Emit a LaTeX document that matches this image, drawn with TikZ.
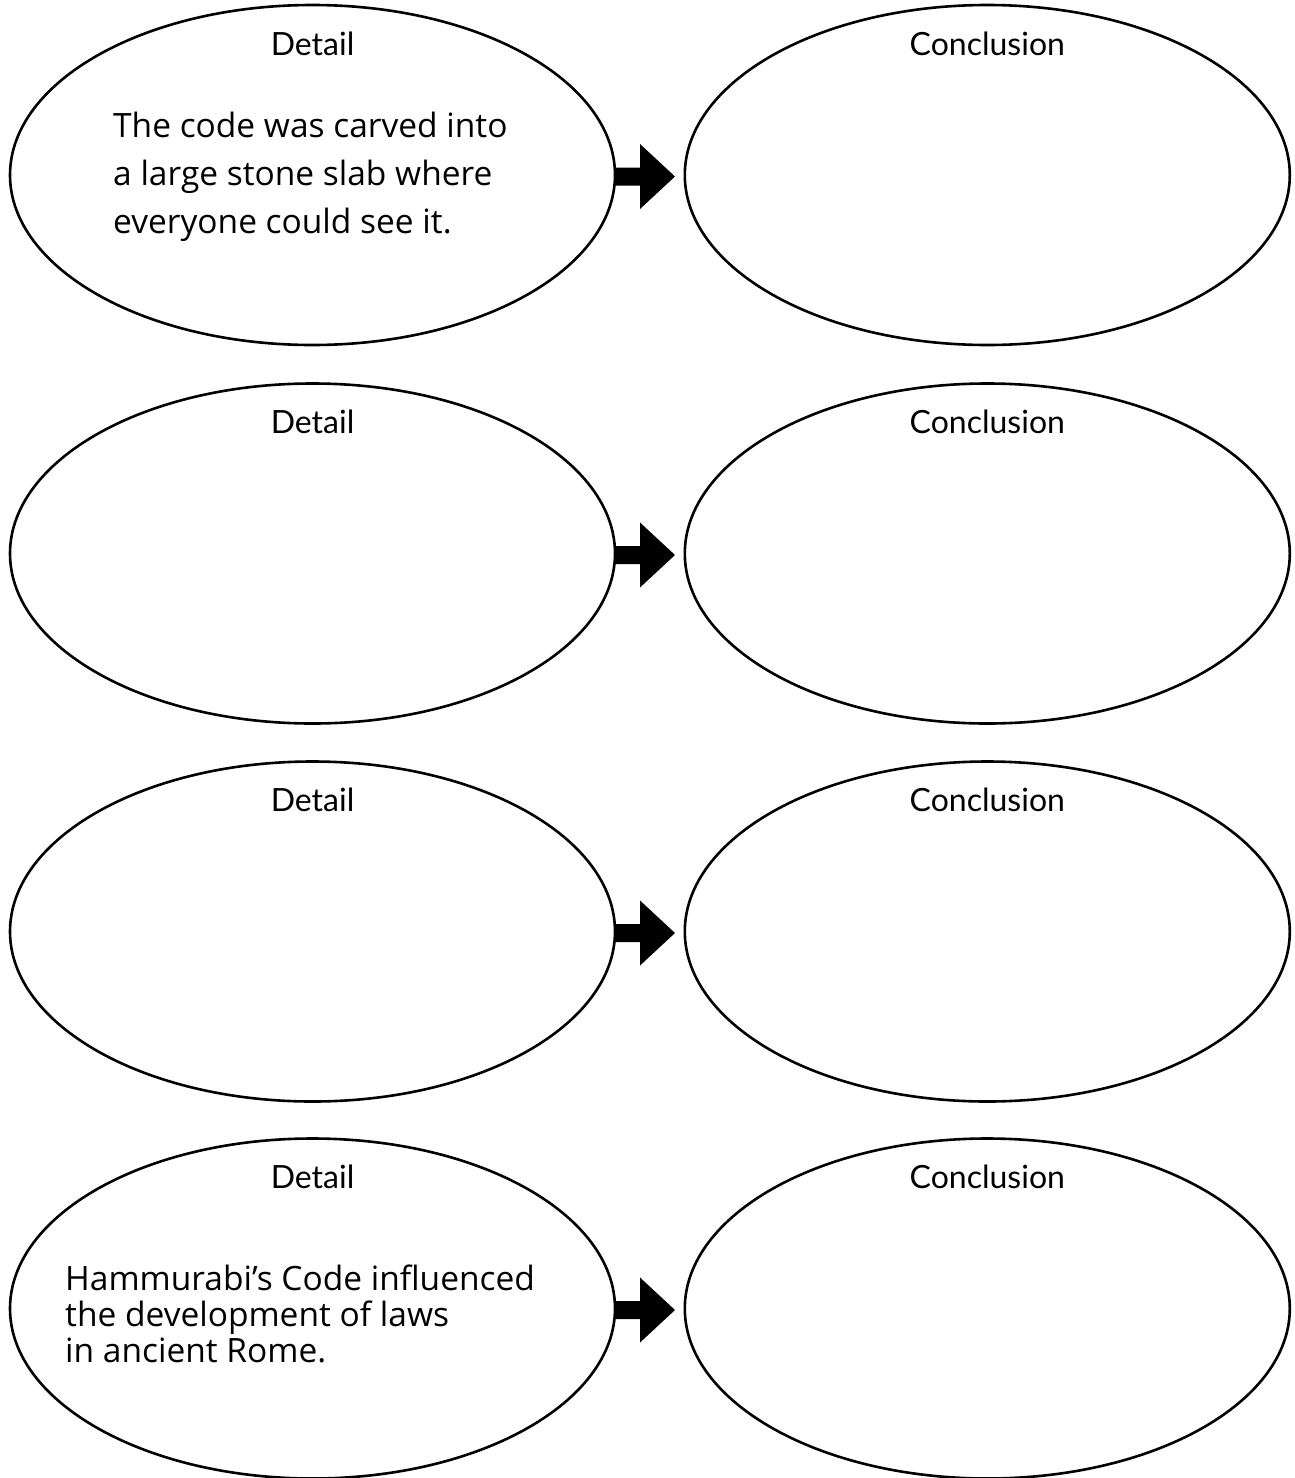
\documentclass[tikz,border=0pt]{standalone}
\usepackage{fontspec}
\setmainfont{Lato}
\newfontfamily\handfont{Open Sans}
\usetikzlibrary{shapes.geometric,calc}
\begin{document}
\begin{tikzpicture}[x=1pt,y=-1pt,
  oval/.style={draw=black,line width=2.6pt,ellipse,minimum width=605pt,minimum height=340pt,inner sep=0pt},
  lbl/.style={font=\fontsize{32}{38}\selectfont,anchor=base,inner sep=0pt},
  hand/.style={font=\handfont\fontsize{33.5}{40}\selectfont,anchor=base west,inner sep=0pt},
  blockarrow/.style={fill=black}]
\useasboundingbox (0,0) rectangle (1294,1478);
\foreach \i/\cy in {1/175,2/553.5,3/931.5,4/1308.5}{
  \node[oval] (d\i) at (312.5,\cy) {};
  \node[oval] (c\i) at (987.3,\cy) {};
  \node[lbl] (dl\i) at ($(d\i.center)+(0,-120)$) {Detail};
  \node[lbl] (cl\i) at ($(c\i.center)+(0,-120)$) {Conclusion};
  \coordinate (a\i) at (615,\cy+1.5);
  \fill[blockarrow] (a\i) ++(0,-9) -- ++(25,0) -- ++(0,-23.5) -- ++(35,32.5) -- ++(-35,32.5) -- ++(0,-23.5) -- ++(-25,0) -- cycle;
}
\node[hand] (t11) at (113,137) {The code was carved into};
\node[hand] (t12) at (113,185) {a large stone slab where};
\node[hand] (t13) at (113,233) {everyone could see it.};
\node[hand] (t41) at (65,1290) {Hammurabi’s Code influenced};
\node[hand] (t42) at (65,1326) {the development of laws};
\node[hand] (t43) at (65,1362) {in ancient Rome.};
\end{tikzpicture}
\end{document}
